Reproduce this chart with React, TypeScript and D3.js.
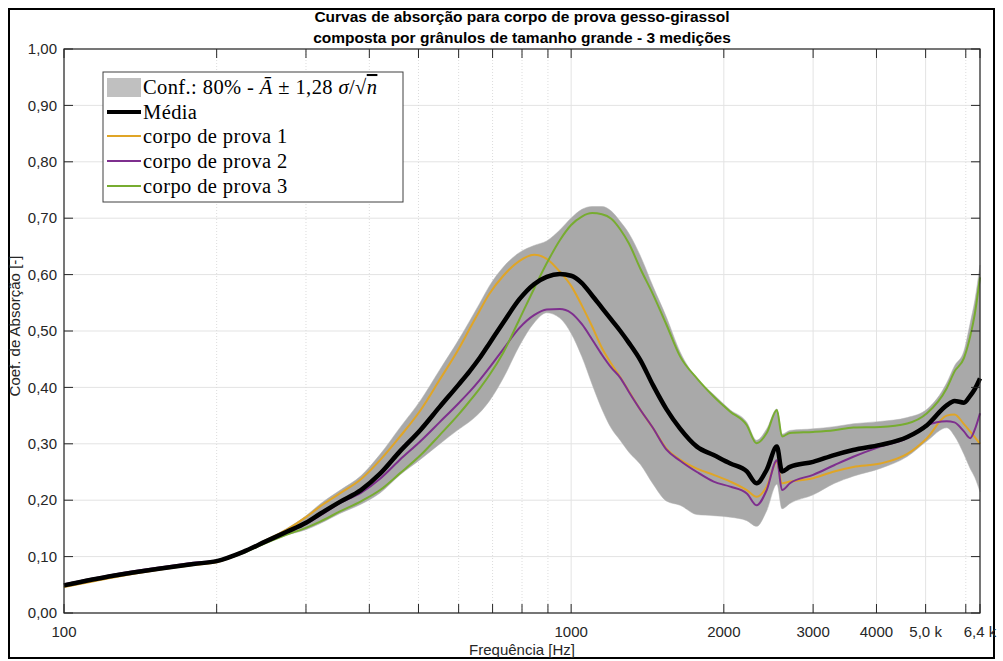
import React from "react";
import * as d3 from "d3";

const freq = [
  100, 125, 155, 180, 200, 225, 250, 275, 300, 320, 350, 385, 420, 460, 505,
  550, 600, 630, 660, 690, 735, 790, 845, 895, 950, 1000, 1050, 1100, 1150,
  1200, 1250, 1300, 1370, 1450, 1540, 1640, 1770, 1910, 2060, 2220, 2320, 2430,
  2545, 2605, 2700, 3000, 3300, 3600, 4070, 4600, 5030, 5500, 5700, 5950, 6120,
  6250, 6400,
];

const cp1 = [
  0.046, 0.063, 0.077, 0.085, 0.09, 0.107, 0.129, 0.148, 0.17, 0.189, 0.212,
  0.237, 0.271, 0.313, 0.36, 0.413, 0.468, 0.503, 0.536, 0.566, 0.598, 0.624,
  0.635, 0.628, 0.605, 0.58, 0.545, 0.508, 0.47, 0.442, 0.418, 0.393, 0.36,
  0.328, 0.292, 0.272, 0.256, 0.245, 0.233, 0.218, 0.206, 0.224, 0.268, 0.23,
  0.233, 0.239, 0.251, 0.259, 0.265, 0.282, 0.31, 0.35, 0.352, 0.335, 0.322,
  0.312, 0.3,
];

const cp2 = [
  0.051, 0.068, 0.081, 0.089, 0.093, 0.109, 0.128, 0.145, 0.158, 0.173, 0.195,
  0.213, 0.238, 0.272, 0.305, 0.338, 0.372, 0.392, 0.413, 0.435, 0.468, 0.505,
  0.528, 0.538, 0.539, 0.532, 0.512, 0.485, 0.458, 0.435, 0.417, 0.392, 0.36,
  0.328, 0.29, 0.27, 0.25, 0.233, 0.224, 0.212, 0.191, 0.218, 0.271, 0.218,
  0.23, 0.245, 0.262, 0.277, 0.295, 0.31, 0.333, 0.34, 0.338, 0.322, 0.31,
  0.325, 0.354,
];

const cp3 = [
  0.049, 0.066, 0.079, 0.087, 0.092, 0.106, 0.124, 0.139, 0.151, 0.162, 0.18,
  0.198, 0.218, 0.248, 0.28, 0.315, 0.352, 0.375, 0.398, 0.422, 0.462, 0.52,
  0.575, 0.62, 0.661, 0.688, 0.703, 0.709, 0.707, 0.699, 0.68, 0.655, 0.61,
  0.565, 0.512, 0.455, 0.416, 0.384, 0.357, 0.333, 0.301, 0.319, 0.36, 0.313,
  0.319, 0.321, 0.324, 0.329, 0.33, 0.336, 0.354, 0.398, 0.428, 0.452, 0.49,
  0.53, 0.595,
];

const media = [
  0.049, 0.066, 0.079, 0.087, 0.092, 0.108, 0.127, 0.144, 0.16, 0.176, 0.197,
  0.218, 0.247, 0.287, 0.325, 0.365, 0.405, 0.428, 0.452, 0.478, 0.515, 0.556,
  0.583, 0.596, 0.601, 0.598, 0.585, 0.563, 0.541, 0.52, 0.5, 0.479, 0.448,
  0.404, 0.362, 0.327, 0.295, 0.28, 0.265, 0.251, 0.23, 0.254, 0.295, 0.251,
  0.259, 0.268, 0.28, 0.289, 0.298, 0.312, 0.333, 0.368, 0.376, 0.373, 0.385,
  0.397, 0.416,
];

const xMajor = [100, 1000, 2000, 3000, 4000, 5000, 6400];
const xMajorLabels = ["100", "1000", "2000", "3000", "4000", "5,0 k", "6,4 k"];
const xMinor = [200, 300, 400, 500, 600, 700, 800, 900, 6000];
const yTicks = [0, 0.1, 0.2, 0.3, 0.4, 0.5, 0.6, 0.7, 0.8, 0.9, 1.0];

const series = [
  { name: "corpo de prova 1", values: cp1, color: "#E0A526" },
  { name: "corpo de prova 2", values: cp2, color: "#7E2F8E" },
  { name: "corpo de prova 3", values: cp3, color: "#77AC30" },
];

const W = 1003;
const H = 661;
const margin = { top: 49, right: 23, bottom: 48, left: 64 };

const App = () => {
  const x = d3
    .scaleLog()
    .domain([100, 6400])
    .range([margin.left, W - margin.right]);
  const y = d3
    .scaleLinear()
    .domain([0, 1])
    .range([H - margin.bottom, margin.top]);

  const [x0, x1] = x.range();
  const [y0, y1] = y.range();

  // faixa de confiança: média ± 1,28 σ
  const band = freq.map((f, i) => {
    const sd = d3.deviation([cp1[i], cp2[i], cp3[i]]) || 0;
    return { f, lo: media[i] - 1.28 * sd, hi: media[i] + 1.28 * sd };
  });

  const area = d3
    .area<{ f: number; lo: number; hi: number }>()
    .x((d) => x(d.f))
    .y0((d) => y(d.lo))
    .y1((d) => y(d.hi))
    .curve(d3.curveMonotoneX);

  const line = d3
    .line<number>()
    .x((_, i) => x(freq[i]))
    .y((d) => y(d))
    .curve(d3.curveMonotoneX);

  const fmtY = (v: number) => d3.format(".2f")(v).replace(".", ",");
  const axisColor = "#262626";
  const font = "'Liberation Sans', Arial, sans-serif";
  const serif = "'Liberation Serif', 'Times New Roman', serif";

  const legendRows = [87, 112, 136, 161, 186];

  return (
    <svg
      width={W}
      height={H}
      style={{ position: "absolute", left: 0, top: 0, display: "block" }}
    >
      <rect x={0} y={0} width={W} height={H} fill="#fff" />
      <rect
        x={9}
        y={9}
        width={985}
        height={649}
        fill="none"
        stroke="#000"
        strokeWidth={2}
      />

      {/* título */}
      <text
        x={(x0 + x1) / 2}
        y={22}
        textAnchor="middle"
        fontFamily={font}
        fontWeight="bold"
        fontSize={15.5}
        fill="#000"
      >
        Curvas de absorção para corpo de prova gesso-girassol
      </text>
      <text
        x={(x0 + x1) / 2}
        y={43}
        textAnchor="middle"
        fontFamily={font}
        fontWeight="bold"
        fontSize={15.5}
        fill="#000"
      >
        composta por grânulos de tamanho grande - 3 medições
      </text>

      {/* grade */}
      <g>
        {yTicks.map((t) => (
          <line
            key={"gy" + t}
            x1={x0}
            x2={x1}
            y1={y(t)}
            y2={y(t)}
            stroke="#e3e3e3"
            strokeWidth={1}
          />
        ))}
        {xMinor.map((t) => (
          <line
            key={"gm" + t}
            x1={x(t)}
            x2={x(t)}
            y1={y0}
            y2={y1}
            stroke="#dcdcdc"
            strokeWidth={1}
            strokeDasharray="1,2"
          />
        ))}
        {xMajor.map((t) => (
          <line
            key={"gx" + t}
            x1={x(t)}
            x2={x(t)}
            y1={y0}
            y2={y1}
            stroke="#e3e3e3"
            strokeWidth={1}
          />
        ))}
      </g>

      {/* faixa de confiança */}
      <path d={area(band) || ""} fill="#a9a9a9" stroke="#b3b3b3" strokeWidth={0.5} />

      {/* medições */}
      {series.map((s) => (
        <path
          key={s.name}
          d={line(s.values) || ""}
          fill="none"
          stroke={s.color}
          strokeWidth={2}
        />
      ))}
      <path
        d={line(media) || ""}
        fill="none"
        stroke="#000"
        strokeWidth={4.5}
        strokeLinejoin="round"
      />

      {/* moldura e marcas */}
      <rect
        x={x0}
        y={y1}
        width={x1 - x0}
        height={y0 - y1}
        fill="none"
        stroke={axisColor}
        strokeWidth={1.2}
      />
      {yTicks.map((t) => (
        <g key={"ty" + t}>
          <line x1={x0} x2={x0 + 9} y1={y(t)} y2={y(t)} stroke={axisColor} />
          <line x1={x1} x2={x1 - 9} y1={y(t)} y2={y(t)} stroke={axisColor} />
          <text
            x={x0 - 7}
            y={y(t)}
            dy="0.35em"
            textAnchor="end"
            fontFamily={font}
            fontSize={15}
            fill={axisColor}
          >
            {fmtY(t)}
          </text>
        </g>
      ))}
      {[...xMajor, ...xMinor].map((t) => (
        <g key={"tx" + t}>
          <line x1={x(t)} x2={x(t)} y1={y0} y2={y0 - 9} stroke={axisColor} />
          <line x1={x(t)} x2={x(t)} y1={y1} y2={y1 + 9} stroke={axisColor} />
        </g>
      ))}
      {xMajor.map((t, i) => (
        <text
          key={"lx" + t}
          x={x(t)}
          y={y0 + 24}
          textAnchor="middle"
          fontFamily={font}
          fontSize={15}
          fill={axisColor}
        >
          {xMajorLabels[i]}
        </text>
      ))}

      {/* rótulos dos eixos */}
      <text
        x={(x0 + x1) / 2}
        y={655}
        textAnchor="middle"
        fontFamily={font}
        fontSize={15}
        fill={axisColor}
      >
        Frequência [Hz]
      </text>
      <text
        transform={`translate(20,${(y0 + y1) / 2 - 5}) rotate(-90)`}
        textAnchor="middle"
        fontFamily={font}
        fontSize={15}
        fill={axisColor}
      >
        Coef. de Absorção [-]
      </text>

      {/* legenda */}
      <g>
        <rect x={103} y={72} width={300} height={130} fill="#fff" stroke="#404040" strokeWidth={1} />
        <rect x={107} y={78} width={34} height={19} fill="#c0c0c0" />
        <text x={143} y={legendRows[0] + 7} fontFamily={serif} fontSize={20.5} letterSpacing={0.4} fill="#000">
          Conf.: 80% - <tspan fontStyle="italic">A&#772;</tspan> ± 1,28{" "}
          <tspan fontStyle="italic">σ</tspan>/√<tspan fontStyle="italic" textDecoration="overline">n</tspan>
        </text>
        <line x1={107} x2={141} y1={legendRows[1]} y2={legendRows[1]} stroke="#000" strokeWidth={4} />
        <text x={143} y={legendRows[1] + 7} fontFamily={serif} fontSize={20.5} letterSpacing={0.4} fill="#000">
          Média
        </text>
        {series.map((s, i) => (
          <g key={"lg" + s.name}>
            <line
              x1={107}
              x2={141}
              y1={legendRows[i + 2]}
              y2={legendRows[i + 2]}
              stroke={s.color}
              strokeWidth={2}
            />
            <text x={143} y={legendRows[i + 2] + 7} fontFamily={serif} fontSize={20.5} letterSpacing={0.4} fill="#000">
              {s.name}
            </text>
          </g>
        ))}
      </g>
    </svg>
  );
};

export default App;
